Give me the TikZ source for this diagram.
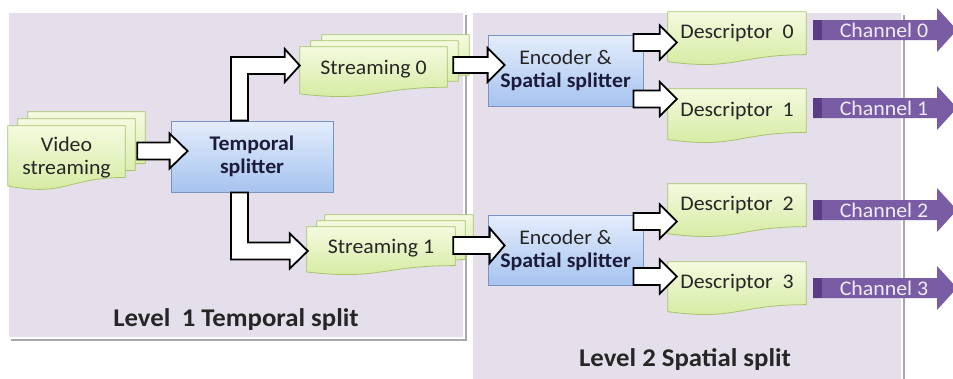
\documentclass[tikz,border=0pt]{standalone}
\usepackage{fontspec}
\setmainfont{Carlito}[FakeStretch=1.05]
\usetikzlibrary{calc}

\definecolor{panelfill}{HTML}{E4DFEB}
\definecolor{panelshadow}{HTML}{A9A7AE}
\definecolor{doctop}{HTML}{F4FADF}
\definecolor{docbottom}{HTML}{D3EA9D}
\definecolor{docline}{HTML}{A8C46C}
\definecolor{boxtop}{HTML}{E4EDFC}
\definecolor{boxbottom}{HTML}{A6C3EF}
\definecolor{boxline}{HTML}{7893C4}
\definecolor{chanfill}{HTML}{7A5CA5}
\definecolor{chandark}{HTML}{5A3D84}
\definecolor{chantext}{HTML}{F1ECF8}
\definecolor{ink}{HTML}{262626}
\definecolor{navy}{HTML}{1C1C3A}

% wavy "document" sheet drawn over the frame of a named node, shifted by (dx,dy)
\newcommand\docsheet[3]{%
  \path[docshade] let \p1=(#1.north west), \p2=(#1.south east) in
    ({\x1+(#2)*1pt},{\y1-(#3)*1pt}) -- ({\x2+(#2)*1pt},{\y1-(#3)*1pt})
    -- ({\x2+(#2)*1pt},{\y1-(#3)*1pt+0.802*(\y2-\y1)})
    .. controls ({0.5*\x1+0.5*\x2+(#2)*1pt},{\y1-(#3)*1pt+0.802*(\y2-\y1)})
    and ({0.5*\x1+0.5*\x2+(#2)*1pt},{\y1-(#3)*1pt+1.107*(\y2-\y1)})
    .. ({\x1+(#2)*1pt},{\y1-(#3)*1pt+0.934*(\y2-\y1)}) -- cycle;}

% straight white block arrow: start point, tip point, body half, head half, head length
\newcommand\hblock[5]{%
  \draw[blockarrow] let \p1=#1, \p2=#2 in
    (\x1,{\y2+#3}) -- ({\x2-#5},{\y2+#3}) -- ({\x2-#5},{\y2+#4}) -- (\x2,\y2)
    -- ({\x2-#5},{\y2-#4}) -- ({\x2-#5},{\y2-#3}) -- (\x1,{\y2-#3}) -- cycle;}

% purple output channel arrow: source node, vertical offset, tip coordinate
\newcommand\channel[3]{%
  \fill[chanfill] let \p1=($(#1.east)+(7,#2)$), \p2=(#3) in
    (\x1,{\y1+10pt}) -- ({\x2-20pt},{\y1+10pt}) -- ({\x2-20pt},{\y1+22pt}) -- (\x2,\y1)
    -- ({\x2-20pt},{\y1-22pt}) -- ({\x2-20pt},{\y1-10pt}) -- (\x1,{\y1-10pt}) -- cycle;
  \fill[chandark] let \p1=($(#1.east)+(7,#2)$) in
    (\x1,{\y1+10pt}) rectangle ({\x1+9pt},{\y1-10pt});}

\begin{document}
\begin{tikzpicture}[x=1pt,y=-1pt,
  every node/.style={font=\fontsize{20.8}{23}\selectfont, text=ink},
  docframe/.style={shape=rectangle, inner sep=0pt},
  docshade/.style={top color=doctop, bottom color=docbottom, draw=docline, line width=0.8pt},
  procbox/.style={shape=rectangle, top color=boxtop, bottom color=boxbottom,
    draw=boxline, line width=0.8pt, inner sep=0pt, align=center},
  blockarrow/.style={fill=white, draw=black, line width=1.8pt, line join=miter},
  chanlabel/.style={text=chantext},
  levellabel/.style={font=\fontsize{25.5}{28}\selectfont\bfseries, text=ink},
  doclabel/.style={align=center},
]
\useasboundingbox (0,0) rectangle (953,378);
\fill[white] (0,0) rectangle (953,378);

% the two stage panels
\fill[panelshadow] (11,15) rectangle (466.5,340.5);
\filldraw[fill=panelfill, draw=white, line width=1.2pt] (8,12) rectangle (464,338);
\fill[panelshadow] (475,15) rectangle (904.5,382);
\filldraw[fill=panelfill, draw=white, line width=1.2pt] (472,12) rectangle (902,382);

% frames of the document sheets
\node[docframe, minimum width=117, minimum height=64] (vid) at (66.5,158) {};
\node[docframe, minimum width=147, minimum height=50] (s0) at (373.5,72) {};
\node[docframe, minimum width=148, minimum height=48] (s1) at (381,251) {};
\node[docframe, minimum width=138, minimum height=53] (d0) at (737,38.5) {};
\node[docframe, minimum width=138, minimum height=54] (d1) at (737,116) {};
\node[docframe, minimum width=138, minimum height=53] (d2) at (737,210.5) {};
\node[docframe, minimum width=138, minimum height=53] (d3) at (737,288.5) {};

% stacked input streams
\docsheet{vid}{20}{-14}\docsheet{vid}{10}{-7}\docsheet{vid}{0}{0}
\docsheet{s0}{22}{-12}\docsheet{s0}{11}{-6}\docsheet{s0}{0}{0}
\docsheet{s1}{18}{-12}\docsheet{s1}{10}{-6}\docsheet{s1}{0}{0}
% single descriptors
\docsheet{d0}{0}{0}\docsheet{d1}{0}{0}\docsheet{d2}{0}{0}\docsheet{d3}{0}{0}

% processing blocks
\node[procbox, minimum width=162, minimum height=71] (tmp) at (252,156.5)
  {\textcolor{navy}{\bfseries Temporal}\\\textcolor{navy}{\bfseries splitter}};
\node[procbox, minimum width=155, minimum height=71] (enc1) at (565.5,70.5)
  {Encoder \&\\\textcolor{navy}{\bfseries Spatial splitter}};
\node[procbox, minimum width=155, minimum height=70] (enc2) at (565.5,250)
  {Encoder \&\\\textcolor{navy}{\bfseries Spatial splitter}};

% block arrows
\hblock{($(vid.east)+(12,0)$)}{($(tmp.west)+(17,-5.5)$)}{8.5pt}{17.5pt}{18pt}
\draw[blockarrow] let \p1=(tmp.north), \p3=($(s0.west)+(0,-6.5)$) in
  ({\x1-21pt},\y1) -- ({\x1-21pt},{\y3+8.5pt}) -- ({\x3-15pt},{\y3+8.5pt})
  -- ({\x3-15pt},{\y3+16.5pt}) -- (\x3,\y3) -- ({\x3-15pt},{\y3-16.5pt})
  -- ({\x3-15pt},{\y3-8.5pt}) -- ({\x1-4pt},{\y3-8.5pt}) -- ({\x1-4pt},\y1) -- cycle;
\draw[blockarrow] let \p1=(tmp.south), \p3=($(s1.west)+(1,0)$) in
  ({\x1-21pt},\y1) -- ({\x1-21pt},{\y3-8.5pt}) -- ({\x3-18pt},{\y3-8.5pt})
  -- ({\x3-18pt},{\y3-17.5pt}) -- (\x3,\y3) -- ({\x3-18pt},{\y3+17.5pt})
  -- ({\x3-18pt},{\y3+8.5pt}) -- ({\x1-4pt},{\y3+8.5pt}) -- ({\x1-4pt},\y1) -- cycle;
\hblock{($(s0.east)+(6,0)$)}{($(enc1.west)+(17,-5.5)$)}{8pt}{17pt}{17pt}
\hblock{($(s1.east)+(-2,0)$)}{($(enc2.west)+(17,-4.5)$)}{8.5pt}{17.5pt}{15pt}
\hblock{($(enc1.east)+(-10,0)$)}{($(d0.west)+(9,4)$)}{8.5pt}{17pt}{17pt}
\hblock{($(enc1.east)+(-10,0)$)}{($(d1.west)+(9,-17)$)}{8.5pt}{17pt}{17pt}
\hblock{($(enc2.east)+(-10,0)$)}{($(d2.west)+(9,11)$)}{8.5pt}{17pt}{17pt}
\hblock{($(enc2.east)+(-10,0)$)}{($(d3.west)+(9,-12)$)}{8.5pt}{17pt}{17pt}

% output channels
\coordinate (c0) at (957,30);
\coordinate (c1) at (957,108);
\coordinate (c2) at (957,210);
\coordinate (c3) at (957,288);
\channel{d0}{-8.5}{c0}
\channel{d1}{-8}{c1}
\channel{d2}{-0.5}{c2}
\channel{d3}{-0.5}{c3}

% sheet texts
\node[doclabel] (vidt) at ([yshift=0.5pt]vid.center) {Video\\streaming};
\node[doclabel] (s0t) at ([yshift=2.5pt]s0.center) {Streaming 0};
\node[doclabel] (s1t) at ([yshift=3pt]s1.center) {Streaming 1};
\node[doclabel] (d0t) at ([yshift=5pt]d0.center) {Descriptor~~0};
\node[doclabel] (d1t) at ([yshift=5pt]d1.center) {Descriptor~~1};
\node[doclabel] (d2t) at ([yshift=5pt]d2.center) {Descriptor~~2};
\node[doclabel] (d3t) at ([yshift=5pt]d3.center) {Descriptor~~3};

% channel texts
\node[chanlabel] (ch0) at (884,30) {Channel 0};
\node[chanlabel] (ch1) at (884,108) {Channel 1};
\node[chanlabel] (ch2) at (884,210) {Channel 2};
\node[chanlabel] (ch3) at (884,288) {Channel 3};

% stage captions
\node[levellabel] (lvl1) at (236,320) {Level\hspace{0.45em}1 Temporal split};
\node[levellabel] (lvl2) at (685,360) {Level 2 Spatial split};
\end{tikzpicture}
\end{document}
